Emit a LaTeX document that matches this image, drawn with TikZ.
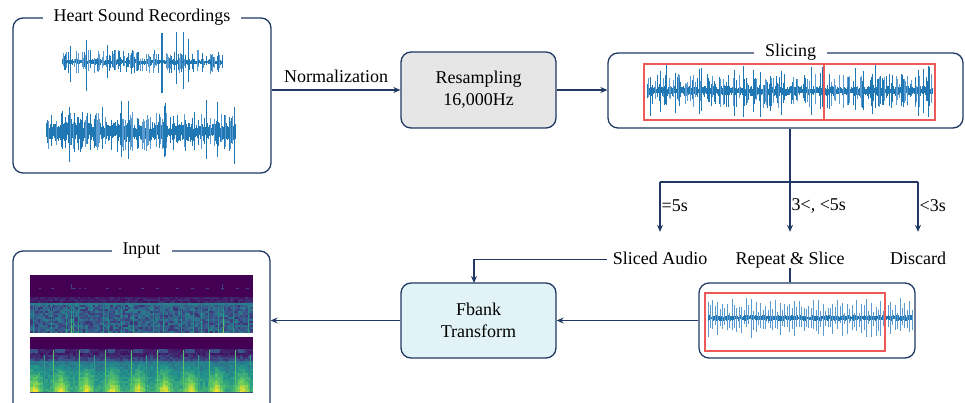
\documentclass[tikz,border=0pt]{standalone}
\usepackage{fontspec}
\setmainfont{Liberation Serif}
\usetikzlibrary{arrows.meta}
\definecolor{navy}{HTML}{1F3864}
\definecolor{wblue}{HTML}{1F77B4}
\definecolor{wlight}{HTML}{5B9BD0}
\definecolor{wred}{HTML}{EE5A5A}
\definecolor{gfill}{HTML}{E6E6E6}
\definecolor{bfill}{HTML}{E2F3F8}
\definecolor{vA}{HTML}{440154}
\definecolor{vB}{HTML}{3B528B}
\definecolor{vC}{HTML}{21918C}
\definecolor{vD}{HTML}{5EC962}
\definecolor{vE}{HTML}{FDE725}
\newcommand\fs{\fontsize{18}{22}\selectfont}
\newcommand\virset[1]{%
  \pgfmathtruncatemacro\vv{max(0,min(99,#1))}%
  \ifnum\vv<25 \pgfmathtruncatemacro\vp{\vv*4}\colorlet{vc}{vB!\vp!vA}%
  \else\ifnum\vv<50 \pgfmathtruncatemacro\vp{(\vv-25)*4}\colorlet{vc}{vC!\vp!vB}%
  \else\ifnum\vv<75 \pgfmathtruncatemacro\vp{(\vv-50)*4}\colorlet{vc}{vD!\vp!vC}%
  \else \pgfmathtruncatemacro\vp{(\vv-75)*4}\colorlet{vc}{vE!\vp!vD}\fi\fi\fi}
% x0 x1 yc base med tall pmed ptall
\newcommand\mywave[8]{%
  \pgfmathtruncatemacro\wn{(#2-#1)/0.8}%
  \foreach \k in {0,...,\wn}{%
    \pgfmathsetmacro\xx{#1+\k*0.8}%
    \pgfmathsetmacro\ra{#4*(0.3+0.7*rnd)}%
    \pgfmathsetmacro\rb{#4*(0.3+0.7*rnd)}%
    \pgfmathsetmacro\rr{rnd}%
    \def\wc{wblue}%
    \ifdim\rr pt<#8pt
      \pgfmathsetmacro\ra{#6*(0.5+0.5*rnd)}%
      \pgfmathsetmacro\rb{#6*(0.5+0.5*rnd)}%
    \else
      \pgfmathsetmacro\rq{#7+#8}%
      \ifdim\rr pt<\rq pt
        \pgfmathsetmacro\ra{#4+(#5-#4)*rnd}%
        \pgfmathsetmacro\rb{#4+(#5-#4)*rnd}%
        \pgfmathsetmacro\rc{rnd}%
        \ifdim\rc pt<0.5pt \def\wc{wlight}\fi
      \fi
    \fi
    \draw[wave,draw=\wc] (\xx,#3-\ra) -- (\xx,#3+\rb);
  }}
\newcommand\beatwave[5]{%
  \pgfmathtruncatemacro\wn{(#2-#1)/0.8}%
  \foreach \k in {0,...,\wn}{%
    \pgfmathsetmacro\xx{#1+\k*0.8}%
    \pgfmathtruncatemacro\mm{mod(\k,6)}%
    \def\wc{wblue}%
    \ifnum\mm=0
      \pgfmathsetmacro\ra{#5*(0.45+0.55*rnd)}%
      \pgfmathsetmacro\rb{#5*(0.45+0.55*rnd)}%
      \def\wc{wlight}%
    \else\ifnum\mm=3
      \pgfmathsetmacro\ra{#5*(0.25+0.4*rnd)}%
      \pgfmathsetmacro\rb{#5*(0.25+0.4*rnd)}%
      \def\wc{wlight}%
    \else
      \pgfmathsetmacro\ra{#4*(0.4+0.6*rnd)}%
      \pgfmathsetmacro\rb{#4*(0.4+0.6*rnd)}%
    \fi\fi
    \draw[wave,draw=\wc] (\xx,#3-\ra) -- (\xx,#3+\rb);
  }}
\tikzset{
  frame/.style={draw=navy, line width=1.3pt, rounded corners=10pt},
  procbox/.style={frame, align=center, font=\fs},
  ttl/.style={fill=white, inner xsep=11pt, inner ysep=2pt, font=\fs},
  arr/.style={draw=navy, line width=1.3pt, -{Stealth[length=7pt,width=6pt]}},
  conn/.style={draw=navy, line width=1.3pt},
  lbl/.style={font=\fs, inner sep=0pt, text height=13pt, text depth=4pt},
  wave/.style={line width=0.7pt},
  redbox/.style={draw=wred, line width=2.2pt},
}
\begin{document}
\begin{tikzpicture}[x=1pt,y=-1pt]
\useasboundingbox (0,0) rectangle (965,403);
\clip (0,0) rectangle (965,403);
\pgfmathsetseed{12}
% ---------- boxes ----------
\node[frame, minimum width=258pt, minimum height=155pt] (hsr) at (142,95.5) {};
\node[procbox, fill=gfill, minimum width=155pt, minimum height=76pt] (res) at (478.5,90) {Resampling\\16,000Hz};
\node[frame, minimum width=355pt, minimum height=75pt] (slc) at (785.5,90.5) {};
\node[procbox, fill=bfill, minimum width=155pt, minimum height=75pt] (fb) at (478.5,320.5) {Fbank\\Transform};
\node[frame, minimum width=216pt, minimum height=75pt] (rep) at (807,320.5) {};
\node[frame, minimum width=257pt, minimum height=168pt] (inp) at (141.5,335) {};
% titles
\node[ttl] (t1) at (hsr.north) {Heart Sound Recordings};
\node[ttl] (t2) at ([xshift=5pt]slc.north) {Slicing};
\node[ttl] (t3) at (inp.north) {Input};
% ---------- waveforms ----------
\mywave{62}{222}{62}{3}{12}{30}{0.4}{0.06}
\draw[wave, draw=wblue, line width=1.8pt] (162,33) -- (162,93);
\mywave{46}{236}{132}{10}{20}{33}{0.35}{0.04}
\mywave{647}{933}{91}{5}{17}{27}{0.35}{0.08}
\beatwave{708}{912}{318}{3}{20}
% red frames
\draw[redbox] (644,64) rectangle (824,120);
\draw[redbox] (824,64) rectangle (935,120);
\draw[redbox] (705,293) rectangle (885,351);
% ---------- spectrogram top ----------
\fill[vA] (30,275) rectangle (253,332);
\foreach \i in {0,...,88}{
  \foreach \j in {11,...,28}{
    \pgfmathsetmacro\vx{30+\i*2.5}
    \pgfmathsetmacro\vy{275+\j*2}
    \ifnum\j<14 \pgfmathsetmacro\vvv{4+12*rnd}\else
      \ifnum\j=14 \pgfmathsetmacro\vvv{38+8*rnd}\else
        \pgfmathsetmacro\vvv{16+28*rnd}\fi\fi
    \virset{\vvv}
    \fill[vc] (\vx,\vy) rectangle ++(2.6,2.1);
  }}
\foreach \i/\s in {1/14,8/12,14/18,16/40,17/28,19/20,29/14,31/14,36/14,41/18,49/14,53/20,60/14,65/16,68/20,71/16,75/18,77/45,81/16,87/20}{
  \foreach \j in {15,...,28}{
    \pgfmathsetmacro\vx{30.5+\i*2.5}
    \pgfmathsetmacro\vy{275+\j*2}
    \pgfmathsetmacro\vvv{34+\s*(\j-14)/14+8*rnd}
    \virset{\vvv}
    \fill[vc] (\vx,\vy) rectangle ++(1.4,2.1);
  }}
\virset{20}
\foreach \i in {3,8,16,17,19,21,30,35,44,50,58,64,70,76,82,86}{
  \fill[vc] (31+\i*2.5,288) rectangle ++(2.5,1.1);
}
\fill[vc] (71,284) rectangle ++(1,5);
\fill[vc] (222,284) rectangle ++(1,6);
% ---------- spectrogram bottom ----------
\fill[vA] (30,337) rectangle (253,393);
\foreach \i in {0,...,88}{
  \foreach \j in {6,...,27}{
    \pgfmathsetmacro\vx{30+\i*2.5}
    \pgfmathsetmacro\vy{337+\j*2}
    \pgfmathsetmacro\dd{mod(\i*2.5+11+130,26)-13}
    \ifnum\j<8
      \ifdim\dd pt<5pt \ifdim\dd pt>-5pt \pgfmathsetmacro\vvv{22+8*rnd}\else\pgfmathsetmacro\vvv{6+8*rnd}\fi
      \else \pgfmathsetmacro\vvv{6+8*rnd}\fi
    \else\ifnum\j<12
      \pgfmathsetmacro\vvv{4+14*rnd+(\j-8)*4}
    \else
      \pgfmathsetmacro\tt{(\j-12)/15}
      \pgfmathsetmacro\bb{max(0,1-abs(\dd-1)/10)}
      \pgfmathsetmacro\vvv{34+22*\tt+12*rnd+40*\tt*\bb}
    \fi\fi
    \virset{\vvv}
    \fill[vc] (\vx,\vy) rectangle ++(2.6,2.1);
  }}
\virset{72}
\foreach \b in {15,41,67,93,119,145,171,197}{
  \fill[vc] (30+\b+8,350) rectangle ++(1.2,42);
}
\virset{55}
\foreach \b in {4,54,106,158,210}{
  \fill[vc] (30+\b+10,355) rectangle ++(1,37);
}
\virset{24}
\fill[vc] (30,391.5) rectangle (253,393);
% ---------- labels and connectors ----------
\draw[arr] (hsr.east |- res.west) -- (res.west) node[midway, above, yshift=3pt, font=\fs] {Normalization};
\draw[arr] (res.east) -- (res.east -| slc.west);
\coordinate (sp) at (790,182);
\coordinate (sl) at (660,182);
\coordinate (sr) at (918,182);
\node[lbl] (sa) at (660,259.5) {Sliced Audio};
\node[lbl] (rs) at (790,259.5) {Repeat \& Slice};
\node[lbl] (dc) at (918,259.5) {Discard};
\draw[conn] (slc.south -| sp) -- (sp);
\draw[conn] (sl) -- (sr);
\draw[arr, shorten >=19pt] (sl) -- (sa.north) node[pos=0.35, right, inner sep=1pt, font=\fs] {=5s};
\draw[arr, shorten >=19pt] (sp) -- (rs.north) node[pos=0.35, right, inner sep=1pt, font=\fs] {3<, <5s};
\draw[arr, shorten >=19pt] (sr) -- (dc.north) node[pos=0.35, right, inner sep=1pt, font=\fs] {<3s};
\draw[conn] (rs.south) -- (rep.north -| rs.south);
\coordinate (fbin) at (474,283);
\draw[arr] ([xshift=-6pt]sa.west) -| (fbin);
\draw[arr] (rep.west) -- (fb.east);
\draw[arr] (fb.west) -- (inp.east |- fb.west);
\end{tikzpicture}
\end{document}
